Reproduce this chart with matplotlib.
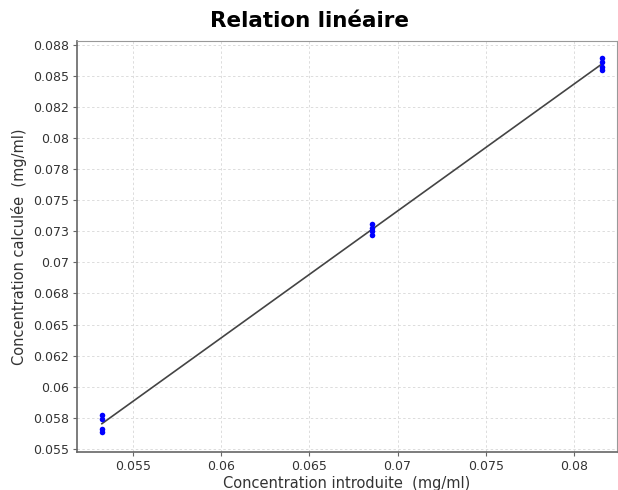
import numpy as np
import matplotlib
matplotlib.use("Agg")
import matplotlib.pyplot as plt
from matplotlib.ticker import FixedLocator, FixedFormatter

# concentrations introduites / calculees (mg/ml), 4 replicats par niveau
x_intro = [0.05324, 0.05324, 0.05324, 0.05324,
           0.06853, 0.06853, 0.06853, 0.06853,
           0.08157, 0.08157, 0.08157, 0.08157]
y_calc = [0.0577, 0.0574, 0.0566, 0.0564,
          0.0731, 0.0728, 0.0725, 0.0722,
          0.0864, 0.0861, 0.0857, 0.0855]

x_ticks = [0.055, 0.06, 0.065, 0.07, 0.075, 0.08]
x_labels = ["0.055", "0.06", "0.065", "0.07", "0.075", "0.08"]
y_ticks = [0.055, 0.0575, 0.06, 0.0625, 0.065, 0.0675, 0.07,
           0.0725, 0.075, 0.0775, 0.08, 0.0825, 0.085, 0.0875]
y_labels = ["0.055", "0.058", "0.06", "0.062", "0.065", "0.068", "0.07",
            "0.073", "0.075", "0.078", "0.08", "0.082", "0.085", "0.088"]

xs = np.array(x_intro)
ys = np.array(y_calc)
a, b = np.polyfit(xs, ys, 1)
x_line = np.array([xs.min(), xs.max()])

fig = plt.figure(figsize=(6.18, 4.9), dpi=100)
ax = fig.add_axes([0.1246, 0.0776, 0.8738, 0.8388])

ax.plot(x_line, a * x_line + b, color="#444444", lw=1.2, zorder=2)
ax.scatter(xs, ys, s=16, color="#0000ff", marker="o", linewidths=0, zorder=3)

ax.set_xlim(0.05183, 0.08244)
ax.set_ylim(0.05476, 0.0878)
ax.xaxis.set_major_locator(FixedLocator(x_ticks))
ax.xaxis.set_major_formatter(FixedFormatter(x_labels))
ax.yaxis.set_major_locator(FixedLocator(y_ticks))
ax.yaxis.set_major_formatter(FixedFormatter(y_labels))

ax.grid(True, color="#dcdcdc", linestyle=(0, (2.5, 2.5)), lw=0.7)
ax.set_axisbelow(True)
for side in ["top", "right"]:
    ax.spines[side].set_color("#999999")
    ax.spines[side].set_linewidth(0.8)
for side in ["left", "bottom"]:
    ax.spines[side].set_color("#666666")
    ax.spines[side].set_linewidth(1.2)
ax.tick_params(length=3, width=0.8, color="#666666", labelsize=9, labelcolor="#333333", pad=3)

ax.set_xlabel("Concentration introduite  (mg/ml)", fontsize=10.5, color="#333333", labelpad=2)
ax.set_ylabel("Concentration calculée  (mg/ml)", fontsize=10.5, color="#333333", labelpad=4)
fig.text(0.5, 0.957, "Relation linéaire", ha="center", va="center",
         fontsize=15.5, fontweight="bold", color="#000000")

fig.savefig("out.png", dpi=100)
